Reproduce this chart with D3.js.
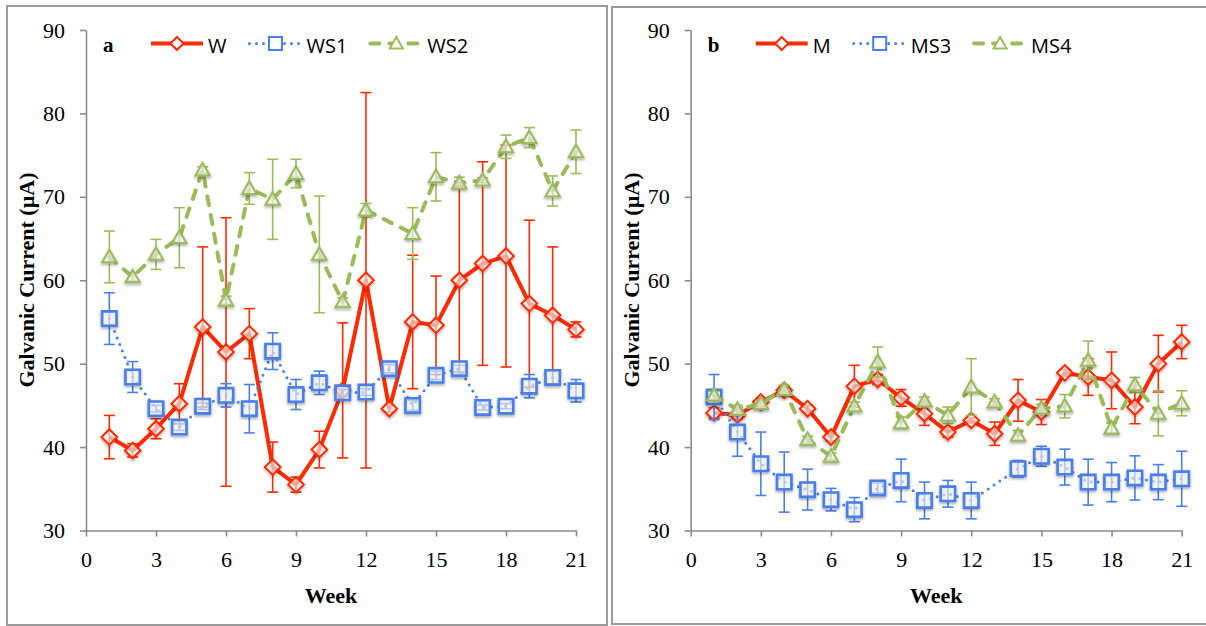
<!DOCTYPE html>
<html>
<head>
<meta charset="utf-8">
<script src="https://cdn.jsdelivr.net/npm/d3@7"></script>
<style>
body { margin: 0; background: #fff; }
svg { display: block; }
</style>
</head>
<body>
<div id="viz"></div>
<script>
// weeks 1..21, null = no reading that week
const weeks = d3.range(1, 22)
const xTicks = [0, 3, 6, 9, 12, 15, 18, 21]
const yTicks = [30, 40, 50, 60, 70, 80, 90]

// panel a
const W_mean = [41.2, 39.6, 42.2, 45.2, 54.4, 51.4, 53.6, 37.6, 35.5, 39.7, 46.8, 60.0, 44.6, 55.0, 54.6, 60.0, 62.0, 62.9, 57.2, 55.8, 54.1]
const W_err = [2.6, 0.8, 1.2, 2.4, 9.6, 16.1, 3.0, 3.0, 0.9, 2.2, 8.1, 22.5, 0.4, 8.0, 5.9, 11.3, 12.2, 13.3, 10.0, 8.2, 0.9]
const WS1_mean = [55.4, 48.4, 44.6, 42.4, 44.9, 46.2, 44.6, 51.5, 46.3, 47.7, 46.5, 46.6, 49.4, 45.0, 48.6, 49.4, 44.75, 44.9, 47.3, 48.35, 46.75]
const WS1_err = [3.1, 1.85, 0.4, 0.4, 0.4, 1.4, 2.9, 2.2, 1.8, 1.4, 0.4, 0.4, 0.5, 0.6, 0.5, 0.4, 0.3, 0.3, 1.4, 0.9, 1.35]
const WS2_mean = [62.8, 60.4, 63.1, 65.1, 73.2, 57.6, 71.0, 69.7, 72.8, 63.1, 57.4, 68.4, null, 65.6, 72.4, 71.65, 72.0, 76.0, 77.1, 70.7, 75.4]
const WS2_err = [3.1, 0.5, 1.8, 3.6, 0.4, 0.5, 1.9, 4.8, 1.7, 7.0, 0.5, 0.8, null, 3.1, 2.9, 0.7, 0.3, 1.4, 1.2, 1.8, 2.6]

// panel b
const M_mean = [44.1, 43.85, 45.4, 46.8, 44.6, 41.2, 47.3, 48.1, 45.9, 44.0, 41.8, 43.2, 41.6, 45.6, 44.2, 48.9, 48.4, 48.0, 44.8, 50.0, 52.6]
const M_err = [0.6, 0.5, 0.4, 0.5, 0.4, 0.5, 2.5, 0.6, 1.0, 1.4, 0.6, 0.3, 1.4, 2.5, 1.5, 0.4, 2.2, 3.4, 2.0, 3.4, 2.0]
const MS3_mean = [46.0, 41.8, 38.0, 35.8, 34.9, 33.7, 32.5, 35.1, 36.0, 33.6, 34.4, 33.6, null, 37.4, 38.9, 37.6, 35.8, 35.8, 36.3, 35.8, 36.2]
const MS3_err = [2.7, 2.9, 3.8, 3.6, 2.45, 1.35, 1.45, 0.6, 2.55, 2.2, 1.6, 2.2, null, 1.0, 1.2, 2.15, 2.75, 2.35, 2.65, 2.1, 3.3]
const MS4_mean = [46.2, 44.5, 45.2, 46.9, 40.9, 38.9, 44.9, 50.2, 42.9, 45.5, 43.8, 47.2, 45.4, 41.4, 44.65, 44.9, 50.4, 42.25, 47.45, 44.05, 45.25]
const MS4_err = [0.5, 0.5, 0.4, 0.5, 0.4, 0.4, 0.5, 1.8, 0.7, 0.5, 1.0, 3.4, 0.4, 0.6, 0.5, 1.4, 2.3, 0.6, 0.9, 2.7, 1.5]

const RED = '#ff2a00'
const BLUE = '#4a7fe8'
const GREEN = '#9bbb59'

const WIDTH = 1206
const HEIGHT = 626

const svg = d3.select('#viz').append('svg')
	.attr('width', WIDTH)
	.attr('height', HEIGHT)

svg.append('rect').attr('width', WIDTH).attr('height', HEIGHT).attr('fill', '#fff')

const defs = svg.append('defs')
const shadow = defs.append('filter').attr('id', 'mk-shadow')
	.attr('x', '-50%').attr('y', '-50%').attr('width', '200%').attr('height', '200%')
shadow.append('feDropShadow')
	.attr('dx', 0).attr('dy', 1.5).attr('stdDeviation', 1.5)
	.attr('flood-color', '#000').attr('flood-opacity', 0.4)

// panel frames
svg.append('rect').attr('x', 7).attr('y', 6).attr('width', 600).attr('height', 619)
	.attr('fill', 'none').attr('stroke', '#9a9a9a').attr('stroke-width', 2)
svg.append('rect').attr('x', 612).attr('y', 7).attr('width', 620).attr('height', 617)
	.attr('fill', 'none').attr('stroke', '#9a9a9a').attr('stroke-width', 2)

function markerPath(kind, s) {
	if (kind === 'diamond') return `M0,${-s}L${s},0L0,${s}L${-s},0Z`
	if (kind === 'square') return `M${-s},${-s}H${s}V${s}H${-s}Z`
	return `M0,${-s}L${s},${s * 0.75}L${-s},${s * 0.75}Z`
}

function makeSeries(name, mean, err, color, marker, style) {
	return {
		name, color, marker, style,
		points: weeks.map((w, i) => ({ week: w, v: mean[i], e: err[i] })).filter((d) => d.v != null)
	}
}

function lineStyle(sel, style) {
	if (style === 'solid') {
		sel.attr('stroke-width', 4).attr('stroke-linejoin', 'round')
	} else if (style === 'dot') {
		sel.attr('stroke-width', 3).attr('stroke-dasharray', '0 7').attr('stroke-linecap', 'round')
	} else {
		sel.attr('stroke-width', 4).attr('stroke-dasharray', '9 10').attr('stroke-linecap', 'round')
	}
	return sel
}

function drawMarker(g, s, x, y) {
	g.append('path')
		.attr('d', markerPath(s.marker, s.marker === 'diamond' ? 7.8 : 7.2))
		.attr('transform', `translate(${x},${y})`)
		.attr('fill', '#fff')
		.attr('fill-opacity', 0.55)
		.attr('stroke', s.color)
		.attr('stroke-width', s.marker === 'square' ? 2.6 : 2)
		.attr('filter', 'url(#mk-shadow)')
}

function drawPanel(x0, x1, letter, series) {
	const top = 30, bottom = 530.5
	const x = d3.scaleLinear().domain([0, 21]).range([x0, x1])
	const y = d3.scaleLinear().domain([30, 90]).range([bottom, top])

	const yAxis = svg.append('g')
		.attr('transform', `translate(${x0},0)`)
		.call(d3.axisLeft(y).tickValues(yTicks).tickSize(6).tickSizeOuter(0).tickPadding(15))
	const xAxis = svg.append('g')
		.attr('transform', `translate(0,${bottom})`)
		.call(d3.axisBottom(x).tickValues(xTicks).tickSize(6).tickSizeOuter(0).tickPadding(15))

	for (let ax of [xAxis, yAxis]) {
		ax.select('.domain').attr('stroke', '#8a8a8a').attr('stroke-width', 1.6)
		ax.selectAll('.tick line').attr('stroke', '#8a8a8a').attr('stroke-width', 1.6)
		ax.selectAll('.tick text')
			.attr('fill', '#000')
			.style('font-family', '"Liberation Serif", "Times New Roman", serif')
			.style('font-size', '22px')
	}

	// axis titles
	svg.append('text')
		.attr('x', (x0 + x1) / 2).attr('y', 603)
		.attr('text-anchor', 'middle')
		.style('font-family', '"Liberation Serif", serif')
		.style('font-weight', 'bold')
		.style('font-size', '22px')
		.text('Week')
	svg.append('text')
		.attr('transform', `translate(${x0 - 52},280) rotate(-90)`)
		.attr('text-anchor', 'middle')
		.style('font-family', '"Liberation Serif", serif')
		.style('font-weight', 'bold')
		.style('font-size', '22px')
		.text('Galvanic Current (µA)')

	const line = d3.line().x((d) => x(d.week)).y((d) => y(d.v))

	for (let s of series) {
		const g = svg.append('g')
		// error bars
		for (let d of s.points) {
			const cx = x(d.week)
			g.append('line').attr('x1', cx).attr('x2', cx)
				.attr('y1', y(d.v - d.e)).attr('y2', y(d.v + d.e))
				.attr('stroke', s.color).attr('stroke-width', 1.6)
			for (let v of [d.v - d.e, d.v + d.e]) {
				g.append('line').attr('x1', cx - 5.5).attr('x2', cx + 5.5)
					.attr('y1', y(v)).attr('y2', y(v))
					.attr('stroke', s.color).attr('stroke-width', 1.6)
			}
		}
		lineStyle(
			g.append('path').datum(s.points).attr('d', line)
				.attr('fill', 'none').attr('stroke', s.color),
			s.style
		)
		for (let d of s.points) drawMarker(g, s, x(d.week), y(d.v))
	}

	// panel letter + legend
	svg.append('text')
		.attr('x', x0 + 17).attr('y', 52)
		.style('font-family', '"Liberation Serif", serif')
		.style('font-weight', 'bold')
		.style('font-size', '21px')
		.text(letter)

	let lx = x0 + 65
	const ly = 43.5
	for (let s of series) {
		const lg = svg.append('g')
		lineStyle(
			lg.append('line').attr('x1', lx).attr('x2', lx + 52).attr('y1', ly).attr('y2', ly)
				.attr('stroke', s.color),
			s.style
		)
		lg.append('path')
			.attr('d', markerPath(s.marker, 6.5))
			.attr('transform', `translate(${lx + 26},${ly})`)
			.attr('fill', '#fff')
			.attr('stroke', s.color)
			.attr('stroke-width', 2)
		const t = lg.append('text')
			.attr('x', lx + 57).attr('y', 53)
			.style('font-family', '"Open Sans", sans-serif')
			.style('font-size', '20px')
			.text(s.name)
		lx += 57 + t.node().getComputedTextLength() + 23
	}
}

drawPanel(86, 576, 'a', [
	makeSeries('W', W_mean, W_err, RED, 'diamond', 'solid'),
	makeSeries('WS1', WS1_mean, WS1_err, BLUE, 'square', 'dot'),
	makeSeries('WS2', WS2_mean, WS2_err, GREEN, 'triangle', 'dash')
])

drawPanel(690.7, 1181.7, 'b', [
	makeSeries('M', M_mean, M_err, RED, 'diamond', 'solid'),
	makeSeries('MS3', MS3_mean, MS3_err, BLUE, 'square', 'dot'),
	makeSeries('MS4', MS4_mean, MS4_err, GREEN, 'triangle', 'dash')
])
</script>
</body>
</html>
